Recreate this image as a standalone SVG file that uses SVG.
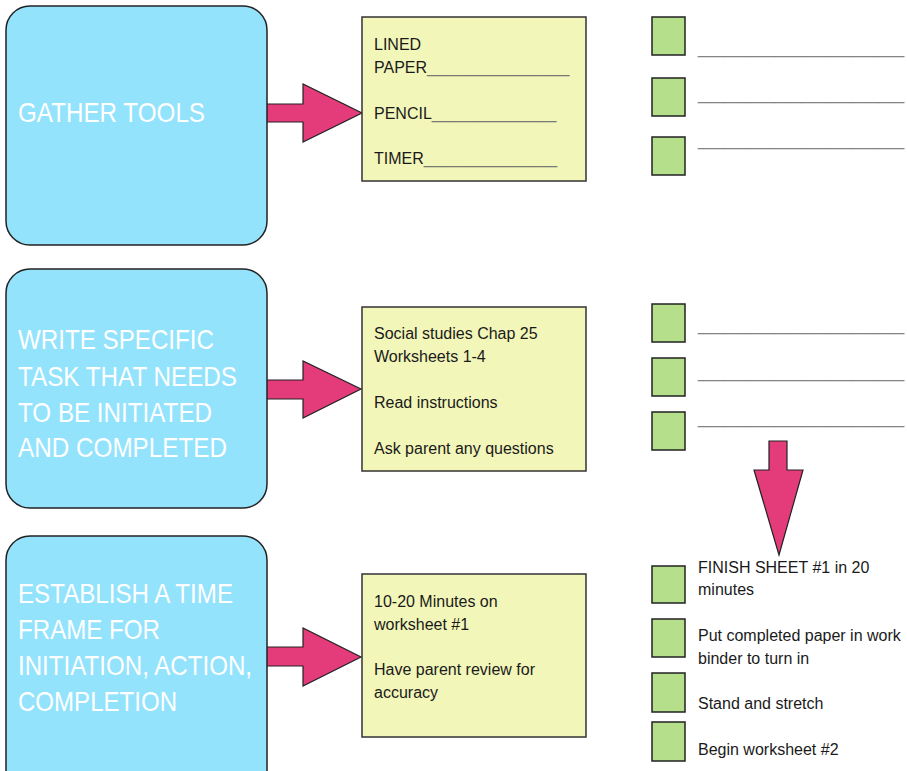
<svg xmlns="http://www.w3.org/2000/svg" width="907" height="771" viewBox="0 0 907 771">
<style>
.step{fill:#94e3fd;stroke:#222;stroke-width:1.5}
.note{fill:#f2f6b9;stroke:#333;stroke-width:1.5}
.chk{fill:#b5df8b;stroke:#222;stroke-width:1.5}
.arr{fill:#e43b7a;stroke:#222;stroke-width:1.2;stroke-linejoin:miter}
.big{font-family:"Liberation Sans",Arial,sans-serif;font-size:28px;fill:#fff}
.t{font-family:"Liberation Sans",Arial,sans-serif;font-size:16px;fill:#1a1a1a}
.u{fill:#7a7a72}
.ln{font-family:"Liberation Sans",Arial,sans-serif;font-size:22px;fill:#858585}
</style>
<rect width="907" height="771" fill="#fff"/>
<g id="connectors">
<polygon class="arr" points="266,104 303,104 303,84 362,113 303,142 303,122 266,122"/>
<polygon class="arr" points="266,380 303,380 303,361 361,389 303,418 303,399 266,399"/>
<polygon class="arr" points="266,647 303,647 303,628 361,657 303,686 303,666 266,666"/>
<polygon class="arr" points="769,441 787,441 787,470 803,470 779,555 754,470 769,470"/>
</g>
<g id="step1">
<rect class="step" x="6" y="6" width="261" height="239" rx="24"/>
<text class="big" x="18" y="122" textLength="187" lengthAdjust="spacingAndGlyphs">GATHER TOOLS</text>
</g>
<g id="step2">
<rect class="step" x="6" y="269" width="261" height="239" rx="24"/>
<text class="big" x="18" y="349" textLength="196" lengthAdjust="spacingAndGlyphs">WRITE SPECIFIC</text>
<text class="big" x="18" y="386" textLength="219" lengthAdjust="spacingAndGlyphs">TASK THAT NEEDS</text>
<text class="big" x="18" y="422" textLength="194" lengthAdjust="spacingAndGlyphs">TO BE INITIATED</text>
<text class="big" x="18" y="457" textLength="209" lengthAdjust="spacingAndGlyphs">AND COMPLETED</text>
</g>
<g id="step3">
<rect class="step" x="6" y="536" width="261" height="260" rx="24"/>
<text class="big" x="18" y="603" textLength="215" lengthAdjust="spacingAndGlyphs">ESTABLISH A TIME</text>
<text class="big" x="18" y="639" textLength="142" lengthAdjust="spacingAndGlyphs">FRAME FOR</text>
<text class="big" x="18" y="675" textLength="234" lengthAdjust="spacingAndGlyphs">INITIATION, ACTION,</text>
<text class="big" x="18" y="711" textLength="159" lengthAdjust="spacingAndGlyphs">COMPLETION</text>
</g>
<g id="note1">
<rect class="note" x="362" y="17" width="224" height="164"/>
<text class="t" x="374" y="50">LINED</text>
<text class="t" x="374" y="73">PAPER<tspan class="u">________________</tspan></text>
<text class="t" x="374" y="119">PENCIL<tspan class="u">______________</tspan></text>
<text class="t" x="374" y="164">TIMER<tspan class="u">_______________</tspan></text>
</g>
<g id="note2">
<rect class="note" x="362" y="307" width="224" height="164"/>
<text class="t" x="374" y="339">Social studies Chap 25</text>
<text class="t" x="374" y="362">Worksheets 1-4</text>
<text class="t" x="374" y="408">Read instructions</text>
<text class="t" x="374" y="454">Ask parent any questions</text>
</g>
<g id="note3">
<rect class="note" x="362" y="574" width="224" height="163"/>
<text class="t" x="374" y="607">10-20 Minutes on</text>
<text class="t" x="374" y="630">worksheet #1</text>
<text class="t" x="374" y="675">Have parent review for</text>
<text class="t" x="374" y="698">accuracy</text>
</g>
<g id="checklist1">
<rect class="chk" x="652" y="17" width="33" height="38"/>
<rect class="chk" x="652" y="78" width="33" height="38"/>
<rect class="chk" x="652" y="137" width="33" height="38"/>
<text class="ln" x="698" y="53" textLength="206" lengthAdjust="spacingAndGlyphs">________________</text>
<text class="ln" x="698" y="99" textLength="206" lengthAdjust="spacingAndGlyphs">________________</text>
<text class="ln" x="698" y="145" textLength="206" lengthAdjust="spacingAndGlyphs">________________</text>
</g>
<g id="checklist2">
<rect class="chk" x="652" y="304" width="33" height="38"/>
<rect class="chk" x="652" y="358" width="33" height="38"/>
<rect class="chk" x="652" y="412" width="33" height="38"/>
<text class="ln" x="698" y="330" textLength="206" lengthAdjust="spacingAndGlyphs">________________</text>
<text class="ln" x="698" y="377" textLength="206" lengthAdjust="spacingAndGlyphs">________________</text>
<text class="ln" x="698" y="423" textLength="206" lengthAdjust="spacingAndGlyphs">________________</text>
</g>
<g id="checklist3">
<rect class="chk" x="652" y="566" width="33" height="37"/>
<rect class="chk" x="652" y="619" width="33" height="38"/>
<rect class="chk" x="652" y="673" width="33" height="39"/>
<rect class="chk" x="652" y="722" width="33" height="39"/>
<text class="t" x="698" y="573">FINISH SHEET #1 in 20</text>
<text class="t" x="698" y="595">minutes</text>
<text class="t" x="698" y="641">Put completed paper in work</text>
<text class="t" x="698" y="664">binder to turn in</text>
<text class="t" x="698" y="709">Stand and stretch</text>
<text class="t" x="698" y="755">Begin worksheet #2</text>
</g>
</svg>
